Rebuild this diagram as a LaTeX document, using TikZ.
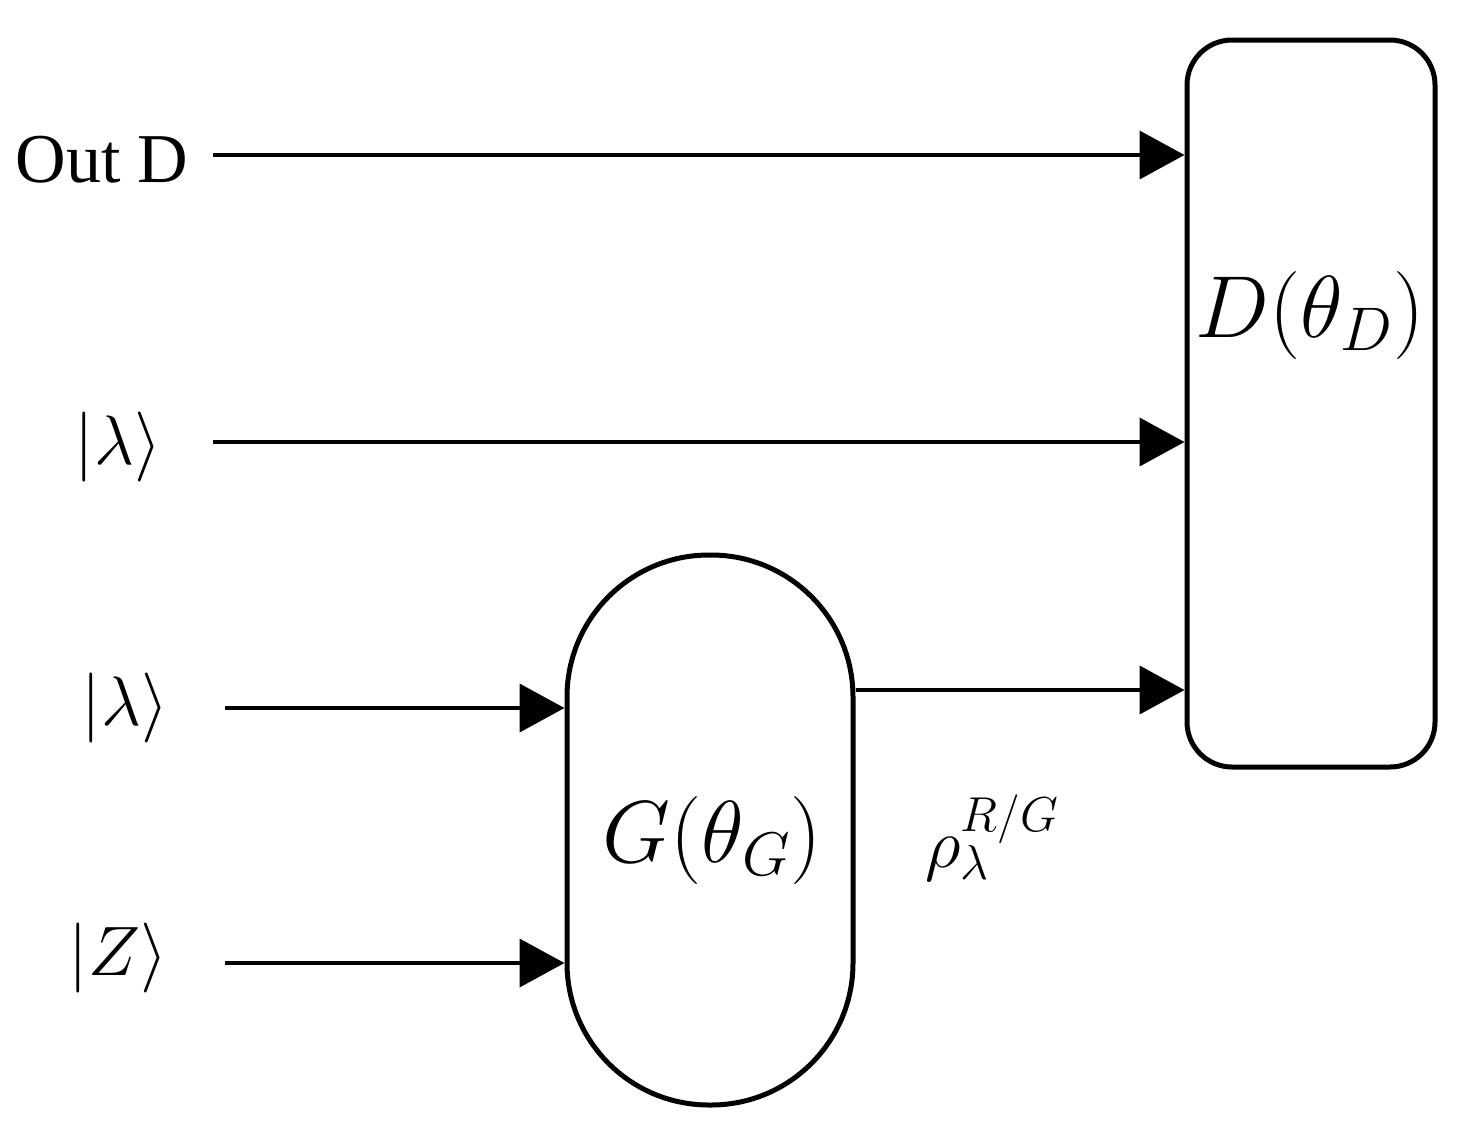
\RequirePackage{fix-cm}
\documentclass[tikz,border=0pt]{standalone}
\usepackage{fontspec}
\setmainfont{Liberation Serif}
\usetikzlibrary{arrows.meta}
\begin{document}
\begin{tikzpicture}[x=1pt,y=-1pt,
  box/.style={draw,line width=5pt,inner sep=0pt},
  arr/.style={line width=4pt,-{Triangle[length=45pt,width=48pt]}},
  lab/.style={font=\fontsize{70}{76}\selectfont},
  big/.style={font=\fontsize{88}{96}\selectfont}]
\useasboundingbox (0,0) rectangle (1480,1141);
\node[box,rounded corners=45pt,minimum width=248pt,minimum height=727pt] (D) at (1311,403.5) {};
\node[box,rounded corners=142pt,minimum width=286pt,minimum height=550pt] (G) at (710,830) {};
\node[big] (dl) at (1310,315) {$D(\theta_D)$};
\node[big] (gl) at (712,840) {$G(\theta_G)$};
\node[lab] (out) at (102,160) {Out D};
\node[lab] (l1) at (118,447) {$|\lambda\rangle$};
\node[lab] (l2) at (125,708) {$|\lambda\rangle$};
\node[lab] (z) at (118,958) {$|Z\rangle$};
\node[lab] (rho) at (992,838) {$\rho_\lambda^{R/G}$};
\coordinate (s1) at (213,155);
\coordinate (s2) at (213,442);
\coordinate (s3) at (225,708);
\coordinate (s4) at (225,963);
\draw[arr] (s1) -- (D.west |- s1);
\draw[arr] (s2) -- (D.west |- s2);
\draw[arr] (s3) -- (G.west |- s3);
\draw[arr] (s4) -- (G.west |- s4);
\draw[arr] (G.east |- 0,690) -- (D.west |- 0,690);
\end{tikzpicture}
\end{document}
